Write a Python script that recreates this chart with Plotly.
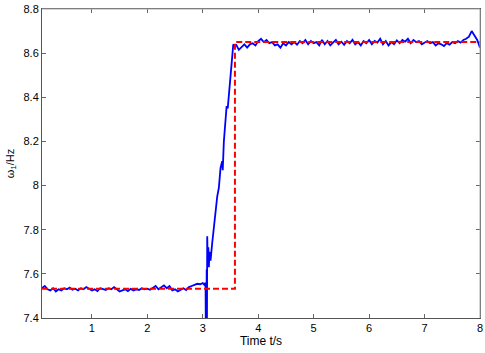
import plotly.graph_objects as go

# ---- data ----
pre_t = [0.10, 0.15, 0.20, 0.25, 0.30, 0.35, 0.40, 0.45, 0.50, 0.55, 0.60, 0.65, 0.70, 0.75,
         0.80, 0.85, 0.90, 0.95, 1.00, 1.05, 1.10, 1.15, 1.20, 1.25, 1.30, 1.35, 1.40, 1.45,
         1.50, 1.55, 1.60, 1.65, 1.70, 1.75, 1.80, 1.85, 1.90, 1.95, 2.00, 2.05, 2.10, 2.15,
         2.20, 2.25, 2.30, 2.35, 2.40, 2.45, 2.50, 2.55, 2.60, 2.65, 2.70, 2.75, 2.80, 2.85,
         2.90, 2.95, 3.00, 3.03]
pre_w = [7.535, 7.545, 7.530, 7.525, 7.535, 7.520, 7.530, 7.525, 7.535, 7.530, 7.538, 7.528,
         7.533, 7.525, 7.535, 7.530, 7.540, 7.532, 7.525, 7.530, 7.522, 7.535, 7.530, 7.527,
         7.535, 7.530, 7.540, 7.528, 7.520, 7.525, 7.530, 7.522, 7.532, 7.525, 7.530, 7.527,
         7.535, 7.530, 7.533, 7.528, 7.535, 7.545, 7.530, 7.540, 7.548, 7.535, 7.545, 7.525,
         7.530, 7.520, 7.528, 7.535, 7.527, 7.540, 7.545, 7.550, 7.555, 7.553, 7.558, 7.550]

jump_t = [3.05, 3.055, 3.06, 3.065, 3.07, 3.075, 3.08, 3.09, 3.10, 3.11, 3.12, 3.14, 3.17,
          3.20, 3.23, 3.26, 3.29, 3.32, 3.35, 3.36, 3.38, 3.41, 3.43, 3.45, 3.47, 3.50, 3.52,
          3.55, 3.58]
jump_w = [7.56, 7.32, 7.58, 7.30, 7.62, 7.34, 7.77, 7.65, 7.72, 7.63, 7.70, 7.66, 7.74,
          7.82, 7.90, 7.95, 7.99, 8.08, 8.11, 8.07, 8.20, 8.30, 8.36, 8.35, 8.41, 8.52, 8.57,
          8.64, 8.63]

post_t = [3.60, 3.65, 3.70, 3.75, 3.80, 3.85, 3.90, 3.95, 4.00, 4.05, 4.10, 4.15, 4.20, 4.25,
          4.30, 4.35, 4.40, 4.45, 4.50, 4.55, 4.60, 4.65, 4.70, 4.75, 4.80, 4.85, 4.90, 4.95,
          5.00, 5.05, 5.10, 5.15, 5.20, 5.25, 5.30, 5.35, 5.40, 5.45, 5.50, 5.55, 5.60, 5.65,
          5.70, 5.75, 5.80, 5.85, 5.90, 5.95, 6.00, 6.05, 6.10, 6.15, 6.20, 6.25, 6.30, 6.35,
          6.40, 6.45, 6.50, 6.55, 6.60, 6.65, 6.70, 6.75, 6.80, 6.85, 6.90, 6.95, 7.00, 7.05,
          7.10, 7.15, 7.20, 7.25, 7.30, 7.35, 7.40, 7.45, 7.50, 7.55, 7.60, 7.65, 7.70, 7.75,
          7.80, 7.85, 7.90, 7.95, 8.00]
post_w = [8.640, 8.615, 8.630, 8.640, 8.625, 8.640, 8.645, 8.635, 8.655, 8.665, 8.650, 8.660,
          8.645, 8.650, 8.635, 8.640, 8.625, 8.645, 8.635, 8.650, 8.640, 8.650, 8.638, 8.655,
          8.645, 8.660, 8.640, 8.655, 8.645, 8.650, 8.635, 8.660, 8.640, 8.655, 8.635, 8.650,
          8.660, 8.640, 8.652, 8.638, 8.655, 8.645, 8.660, 8.640, 8.650, 8.635, 8.655, 8.645,
          8.660, 8.640, 8.655, 8.648, 8.665, 8.640, 8.655, 8.635, 8.650, 8.640, 8.658, 8.645,
          8.660, 8.652, 8.665, 8.645, 8.660, 8.650, 8.655, 8.640, 8.648, 8.655, 8.645, 8.650,
          8.635, 8.645, 8.640, 8.632, 8.645, 8.638, 8.650, 8.645, 8.655, 8.648, 8.660, 8.665,
          8.675, 8.700, 8.680, 8.660, 8.625]

ref_t = [0.10, 3.58, 3.58, 8.00]
ref_w = [7.532, 7.532, 8.650, 8.650]

x_ticks = [1, 2, 3, 4, 5, 6, 7, 8]
y_ticks = [7.4, 7.6, 7.8, 8.0, 8.2, 8.4, 8.6, 8.8]
y_tick_text = ["7.4", "7.6", "7.8", "8", "8.2", "8.4", "8.6", "8.8"]

meas_t = pre_t + jump_t + post_t
meas_w = pre_w + jump_w + post_w

fig = go.Figure()
fig.add_trace(go.Scatter(x=meas_t, y=meas_w, mode="lines",
                         line=dict(color="#0000FF", width=1.8), showlegend=False))
fig.add_trace(go.Scatter(x=ref_t, y=ref_w, mode="lines",
                         line=dict(color="#FF0000", width=2, dash="6px,3px"), showlegend=False))

font_family = "Liberation Sans, Arial, sans-serif"
axis_common = dict(showgrid=False, zeroline=False, showline=True, linecolor="#555555",
                   linewidth=1, mirror="ticks", ticks="inside", ticklen=4, tickcolor="#666666",
                   tickfont=dict(family=font_family, size=11, color="#000"))

fig.update_layout(
    width=485, height=353,
    margin=dict(l=42, r=5, t=9, b=35, autoexpand=False),
    paper_bgcolor="white", plot_bgcolor="white",
    xaxis=dict(range=[0.1, 8.0], tickvals=x_ticks, automargin=False,
               title=dict(text="Time t/s", standoff=3,
                          font=dict(family=font_family, size=12, color="#000")),
               **axis_common),
    yaxis=dict(range=[7.4, 8.8], tickvals=y_ticks, ticktext=y_tick_text, automargin=False,
               title=dict(text="ω<sub>1</sub>/Hz", standoff=6,
                          font=dict(family=font_family, size=11, color="#000")),
               **axis_common),
    shapes=[
        dict(type="line", xref="paper", yref="paper", x0=0, x1=1, y0=1, y1=1,
             line=dict(color="#aaaaaa", width=1)),
        dict(type="line", xref="paper", yref="paper", x0=1, x1=1, y0=0, y1=1,
             line=dict(color="#aaaaaa", width=1)),
    ],
)

fig.write_html("out.html", config={"displayModeBar": False},
               post_script="document.body.style.margin='0';document.body.style.padding='0';")
